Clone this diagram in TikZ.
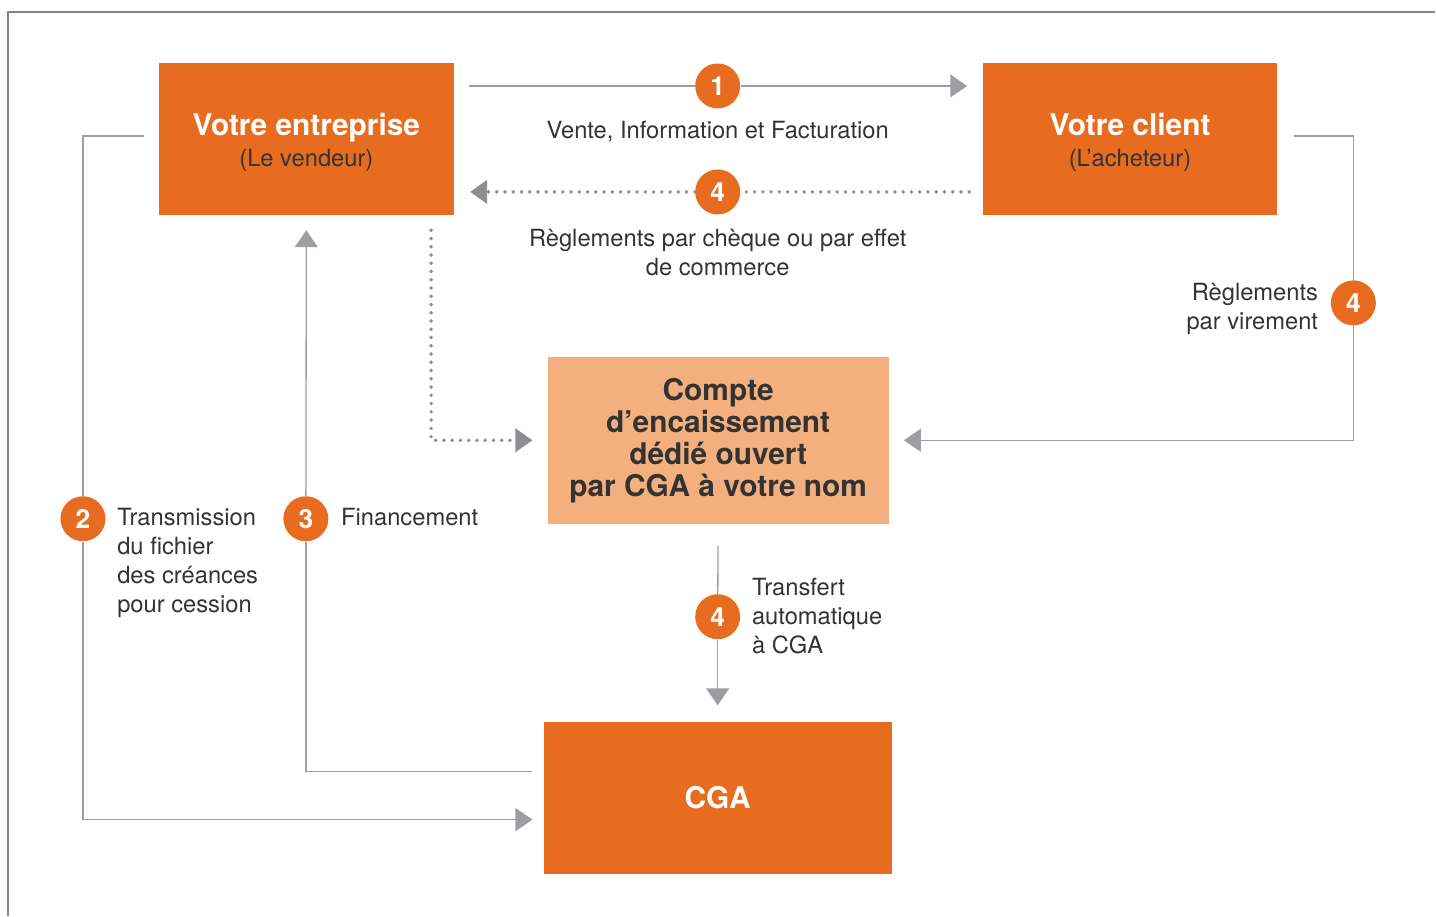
\documentclass[tikz,border=0pt]{standalone}
\usepackage{fontspec}
\setmainfont{TeX Gyre Heros}
\usetikzlibrary{arrows.meta,positioning}

\definecolor{cgaorange}{HTML}{E86C20}
\definecolor{cgalight}{HTML}{F3B07E}
\definecolor{linegray}{HTML}{9D9EA2}
\definecolor{dotgray}{HTML}{8E8F93}
\definecolor{framegray}{HTML}{858585}
\definecolor{ink}{HTML}{333333}

\begin{document}
\begin{tikzpicture}[
    x=0.02cm, y=-0.02cm,
    >={Triangle[length=0.34cm,width=0.46cm]},
    box/.style = {fill=cgaorange, text=white, align=center, inner sep=0pt,
                  minimum width=5.9cm, minimum height=3.04cm,
                  font=\fontsize{13.5}{16}\selectfont},
    compte/.style = {fill=cgalight, text=ink, align=center, inner sep=0pt,
                     minimum width=6.82cm, minimum height=3.34cm,
                     font=\bfseries\fontsize{17}{18.2}\selectfont},
    num/.style = {circle, fill=cgaorange, text=white, inner sep=0pt,
                  minimum size=0.9cm, font=\bfseries\fontsize{15}{15}\selectfont},
    lbl/.style = {text=ink, inner sep=0pt, font=\fontsize{13.5}{16.6}\selectfont},
    link/.style = {draw=linegray, line width=0.75pt, fill=none},
    dotlink/.style = {draw=dotgray, line width=2.2pt, line cap=round,
                      dash pattern=on 0pt off 4.7pt},
  ]

    % frame
    \draw[framegray, line width=0.75pt] (8,916) -- (8,12) -- (1436,12);
    \useasboundingbox (0,0) rectangle (1436,916);

    % boxes
    \node[box] (ent) at (306.5,139) {{\bfseries\fontsize{17}{20}\selectfont\rule{0pt}{16.5pt}Votre entreprise}\\[1.5pt]{\color{ink}(Le vendeur)}};
    \node[box] (cli) at (1130.5,139) {{\bfseries\fontsize{17}{20}\selectfont\rule{0pt}{16.5pt}Votre client}\\[1.5pt]{\color{ink}(L’acheteur)}};
    \node[compte] (cpt) at (718.5,440.5) {Compte\\d’encaissement\\dédié ouvert\\par CGA à votre nom};
    \node[box, minimum width=6.96cm, font=\bfseries\fontsize{17}{20}\selectfont] (cga) at (718,798) {CGA};

    % numbers
    \node[num] (n1) at (718,86) {1};
    \node[num] (n4a) at (718,192) {4};
    \node[num] (n4r) at (1354,303) {4};
    \node[num] (n2) at (83,519) {2};
    \node[num] (n3) at (306,519) {3};
    \node[num] (n4b) at (718,617) {4};

    % connectors
    \draw[link, shorten <=0.3cm] (ent.east |- n1) -- (n1);
    \draw[link, ->, shorten >=0.3cm] (n1) -- (cli.west |- n1);

    \draw[dotlink, shorten <=0.26cm] (cli.west |- n4a) -- (n4a);
    \draw[dotlink, ->, shorten >=0.32cm] (n4a) -- (ent.east |- n4a);

    \draw[link, shorten <=0.32cm] ([yshift=0.06cm]cli.east) -| (n4r);
    \draw[link, ->, shorten >=0.3cm] (n4r) |- (cpt.east);

    \draw[dotlink, ->, shorten <=0.3cm, shorten >=0.3cm] ([xshift=-0.46cm]ent.south east) |- (cpt.west);

    \draw[link, shorten <=0.22cm] ([yshift=0.52cm]cga.west) -| (n3);
    \draw[link, ->, shorten >=0.3cm] (n3) -- (ent.south);

    \draw[link, shorten <=0.3cm] ([yshift=0.06cm]ent.west) -| (n2);
    \draw[link, ->, shorten >=0.22cm] (n2) |- ([yshift=-0.44cm]cga.west);

    \draw[link, shorten <=0.44cm] (cpt.south) -- (n4b);
    \draw[link, ->, shorten >=0.32cm] (n4b) -- (cga.north);

    % labels
    \node[lbl, anchor=base] (lvente) at (718,139) {Vente, Information et Facturation};
    \node[lbl, anchor=north, align=center] (lcheque) at (718,229) {Règlements par chèque ou par effet\\de commerce};
    \node[lbl, anchor=north east, align=right] (lvir) at (1319,283) {Règlements\\par virement};
    \node[lbl, anchor=north west, align=left] (ltrans) at (117,508) {Transmission\\du fichier\\des créances\\pour cession};
    \node[lbl, anchor=north west] (lfin) at (341,508) {Financement};
    \node[lbl, anchor=north west, align=left] (lauto) at (752,578) {Transfert\\automatique\\à CGA};
\end{tikzpicture}
\end{document}
